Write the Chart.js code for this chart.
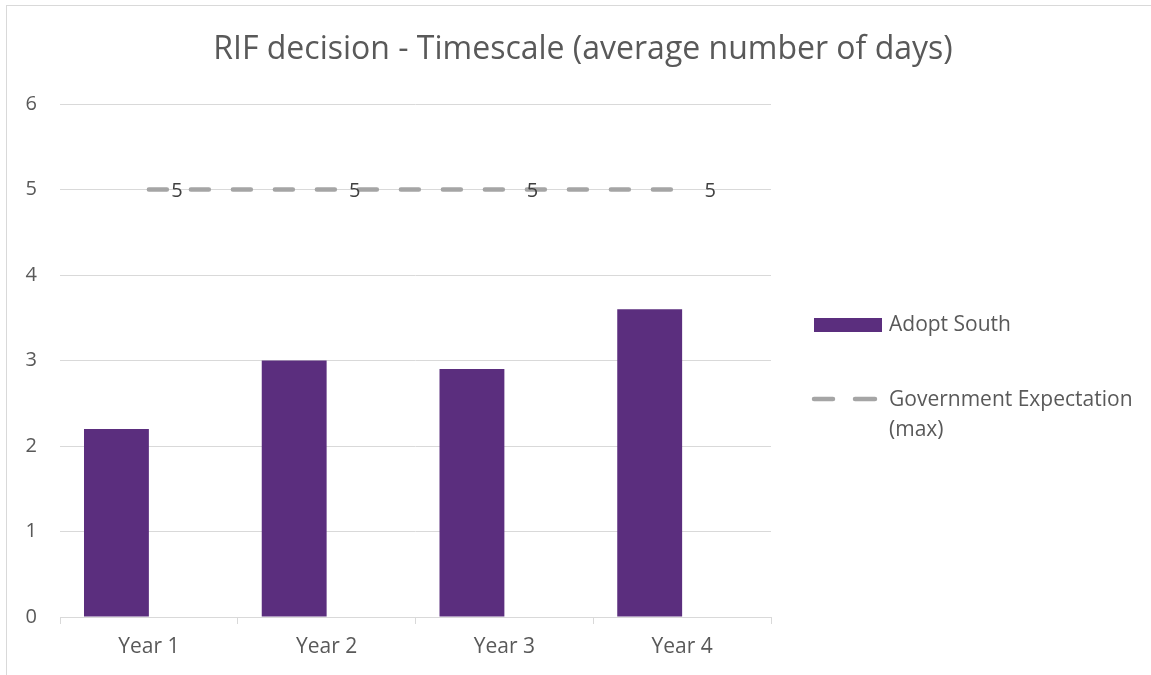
<!DOCTYPE html>
<html>
<head>
<meta charset="utf-8">
<script src="https://cdn.jsdelivr.net/npm/chart.js@4.4.1/dist/chart.umd.min.js"></script>
<style>
  html, body { margin: 0; padding: 0; background: #ffffff; overflow: hidden; }
  #frame { position: absolute; left: 6px; top: 5px; width: 1300px; height: 900px; border: 1px solid #d9d9d9; }
  #wrap { position: absolute; left: 0; top: 0; width: 1151px; height: 675px; }
</style>
</head>
<body>
<div id="frame"></div>
<div id="wrap"><canvas id="c" width="1151" height="675"></canvas></div>
<script>
const titleText = "RIF decision - Timescale (average number of days)";
const categories = ["Year 1", "Year 2", "Year 3", "Year 4"];
const adoptSouth = [2.2, 3.0, 2.9, 3.6];
const govExpectation = [5, 5, 5, 5];
const spacer = [null, null, null, null];
const yTicks = [0, 1, 2, 3, 4, 5, 6];

const FONT = "'Open Sans', Lato, sans-serif";
const TEXT = "#595959";
const PURPLE = "#5b2e7e";
const GREY = "#a5a5a5";

const overlay = {
  id: "overlay",
  afterDraw(chart) {
    const ctx = chart.ctx;
    ctx.save();
    // title
    ctx.fillStyle = TEXT;
    ctx.font = "32px " + FONT;
    ctx.textAlign = "center";
    ctx.textBaseline = "middle";
    ctx.fillText(titleText, 583, 50);

    // data labels for the line series
    const meta = chart.getDatasetMeta(2);
    ctx.font = "20px " + FONT;
    ctx.fillStyle = "#404040";
    meta.data.forEach((pt, i) => {
      ctx.fillText(String(chart.data.datasets[2].data[i]), pt.x + 28, pt.y + 2);
    });

    // legend
    const ds0 = chart.data.datasets[0];
    const ds2 = chart.data.datasets[2];
    ctx.font = "21px " + FONT;
    ctx.textAlign = "left";
    ctx.fillStyle = ds0.backgroundColor;
    ctx.fillRect(814, 318, 68, 14);
    ctx.fillStyle = TEXT;
    ctx.fillText(ds0.label, 889, 325);

    ctx.strokeStyle = ds2.borderColor;
    ctx.lineWidth = ds2.borderWidth;
    ctx.lineCap = "round";
    ctx.beginPath();
    ctx.moveTo(814, 399); ctx.lineTo(833, 399);
    ctx.moveTo(855, 399); ctx.lineTo(875, 399);
    ctx.stroke();
    const parts = ds2.label.split("\n");
    parts.forEach((p, k) => ctx.fillText(p, 889, 400 + k * 30));
    ctx.restore();
  }
};

new Chart(document.getElementById("c"), {
  data: {
    labels: categories,
    datasets: [
      { type: "bar", label: "Adopt South", data: adoptSouth, backgroundColor: PURPLE,
        categoryPercentage: 0.73, barPercentage: 1.0, order: 2 },
      { type: "bar", label: "", data: spacer, backgroundColor: "rgba(0,0,0,0)",
        categoryPercentage: 0.73, barPercentage: 1.0, order: 3 },
      { type: "line", label: "Government Expectation\n(max)", data: govExpectation,
        borderColor: GREY, borderWidth: 4.5, borderDash: [18, 24], borderCapStyle: "round",
        pointRadius: 0, fill: false, order: 1 }
    ]
  },
  options: {
    responsive: false,
    animation: false,
    layout: { padding: { left: 0, right: 380, top: 104, bottom: 0 } },
    plugins: { legend: { display: false }, title: { display: false }, tooltip: { enabled: false } },
    scales: {
      x: {
        offset: true,
        grid: { display: true, drawOnChartArea: false, color: "#d9d9d9", tickLength: 7, offset: true },
        border: { display: true, color: "#d9d9d9" },
        ticks: { color: TEXT, font: { family: FONT, size: 21 }, padding: 10 },
        afterFit(scale) { scale.height = 58; }
      },
      y: {
        min: 0, max: 6,
        afterBuildTicks(scale) { scale.ticks = yTicks.map(v => ({ value: v })); },
        grid: { color: "#d9d9d9", drawTicks: false },
        border: { display: false },
        ticks: { color: TEXT, font: { family: FONT, size: 20 }, padding: 23 },
        afterFit(scale) { scale.width = 60; }
      }
    }
  },
  plugins: [overlay]
});
</script>
</body>
</html>
